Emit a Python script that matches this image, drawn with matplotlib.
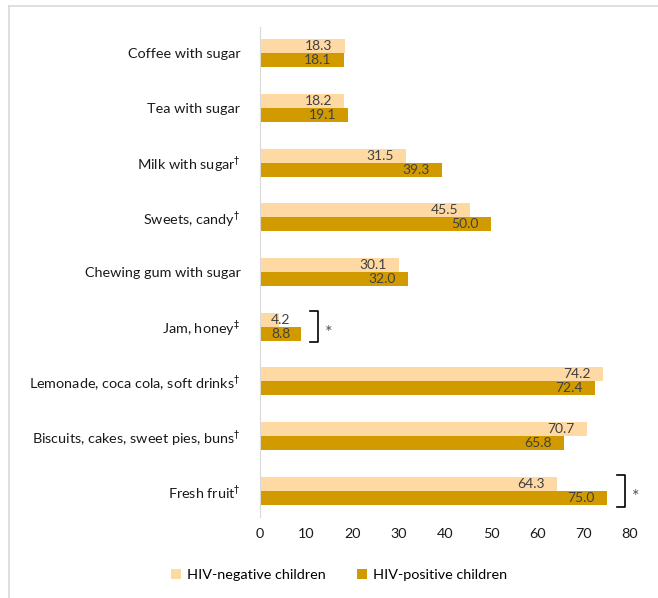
import numpy as np
import matplotlib.pyplot as plt
from matplotlib.lines import Line2D

plt.rcParams['font.family'] = ['Lato', 'DejaVu Sans']
plt.rcParams['mathtext.fontset'] = 'dejavusans'

categories = ['Coffee with sugar', 'Tea with sugar', r'Milk with sugar$^{\dagger}$',
              r'Sweets, candy$^{\dagger}$', 'Chewing gum with sugar', r'Jam, honey$^{\ddagger}$',
              r'Lemonade, coca cola, soft drinks$^{\dagger}$',
              r'Biscuits, cakes, sweet pies, buns$^{\dagger}$', r'Fresh fruit$^{\dagger}$']
hiv_negative = [18.3, 18.2, 31.5, 45.5, 30.1, 4.2, 74.2, 70.7, 64.3]
hiv_positive = [18.1, 19.1, 39.3, 50.0, 32.0, 8.8, 72.4, 65.8, 75.0]

light = '#FFD9A3'
dark = '#D19B00'
txt = '#404040'

fig = plt.figure(figsize=(6.58, 5.98), dpi=100)
ax = fig.add_axes([0.395, 0.1355, 0.562, 0.8195])

y = np.arange(len(categories))
h = 0.256
ax.barh(y - h / 2, hiv_negative, height=h, color=light, label='HIV-negative children')
ax.barh(y + h / 2, hiv_positive, height=h, color=dark, label='HIV-positive children')

for i in range(len(categories)):
    ax.text(max(hiv_negative[i] - 2.6, 6.6), y[i] - h / 2, f'{hiv_negative[i]:.1f}', ha='right',
            va='center', fontsize=10, color=txt)
    ax.text(max(hiv_positive[i] - 2.6, 6.6), y[i] + h / 2, f'{hiv_positive[i]:.1f}', ha='right',
            va='center', fontsize=10, color=txt)

ax.set_ylim(8.48, -0.48)
ax.set_xlim(0, 80)
ax.set_xticks(range(0, 81, 10))
ax.set_yticks(y)
ax.set_yticklabels(categories, fontsize=10.4, color='#1a1a1a')
ax.tick_params(axis='both', length=0, labelsize=10.4)
ax.tick_params(axis='y', pad=14)
ax.tick_params(axis='x', pad=8)
for lab in ax.get_xticklabels():
    lab.set_color('#1a1a1a')
for s in ['top', 'right', 'bottom']:
    ax.spines[s].set_visible(False)
ax.spines['left'].set_color('#D9D9D9')

# significance brackets
def bracket(x0, x1, yc, dy, xs):
    ax.plot([x0, x1, x1, x0], [yc - dy, yc - dy, yc + dy, yc + dy],
            color='black', lw=1.2, clip_on=False)
    ax.text(xs, yc + 0.12, '*', ha='center', va='center', fontsize=13, color='#555555', clip_on=False)

bracket(10.8, 12.5, 5, 0.29, 14.8)
bracket(77.2, 78.9, 8, 0.29, 81.3)

fig.legend(loc='center', bbox_to_anchor=(0.515, 0.038), ncol=2, frameon=False,
           fontsize=10.4, handlelength=0.7, handleheight=0.7, handletextpad=0.4,
           columnspacing=2.2)

# chart border
fig.add_artist(Line2D([0.013, 1.0], [0.99, 0.99], color='#D9D9D9', lw=1.2))
fig.add_artist(Line2D([0.013, 0.013], [0.0, 0.99], color='#D9D9D9', lw=1.2))

fig.savefig('out.png', dpi=100)
